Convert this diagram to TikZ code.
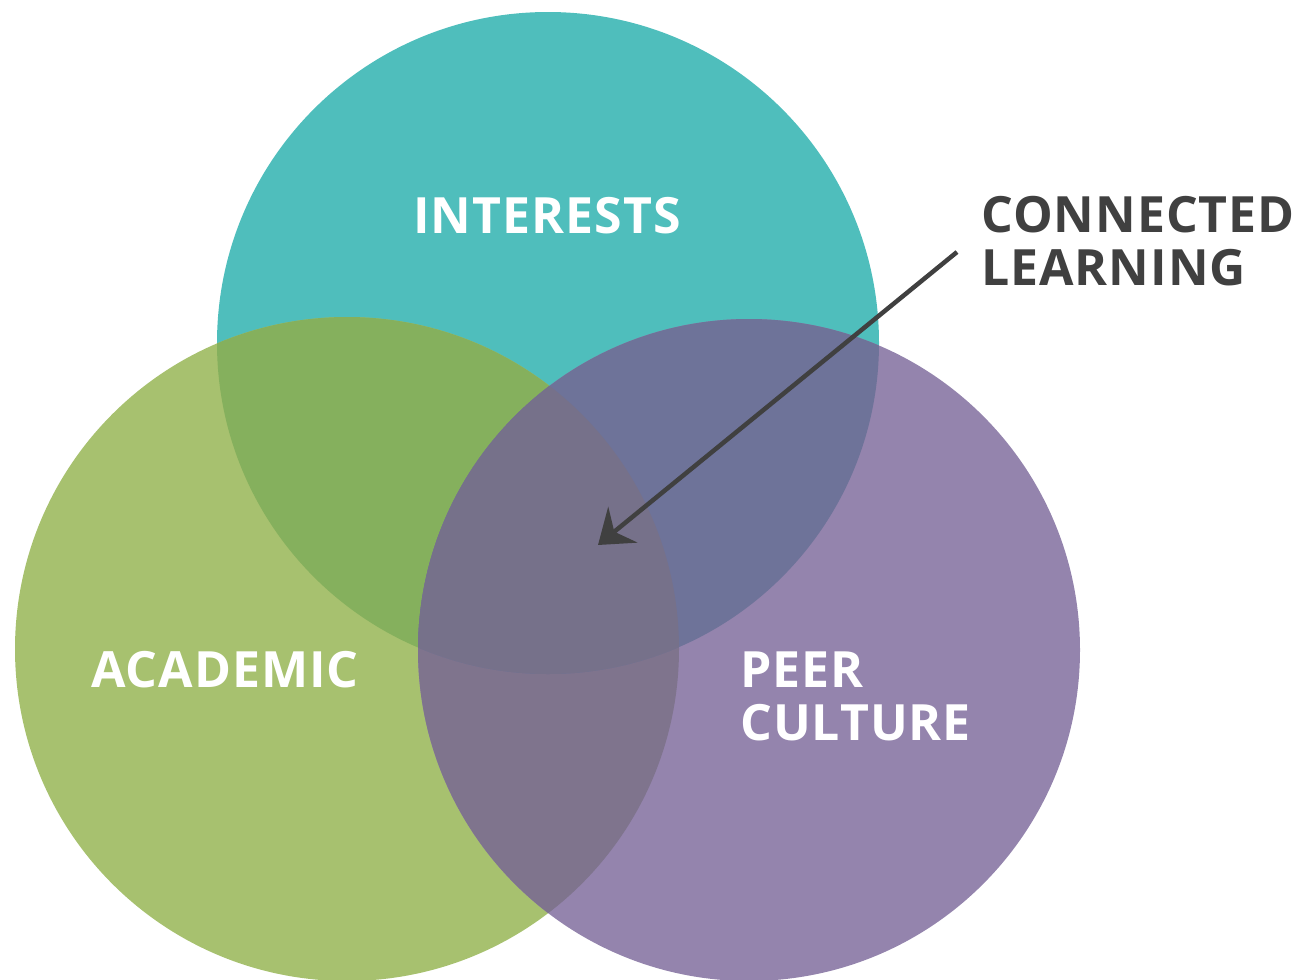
\documentclass[tikz,border=0pt]{standalone}
\usepackage{fontspec}
\setmainfont{Open Sans}
\usetikzlibrary{arrows.meta}
\definecolor{tealc}{HTML}{4FBEBC}
\definecolor{greenc}{HTML}{A7C16F}
\definecolor{purplec}{HTML}{9484AD}
\definecolor{gtc}{HTML}{85B05D}
\definecolor{tpc}{HTML}{6E7399}
\definecolor{gpc}{HTML}{7F748D}
\definecolor{allc}{HTML}{76718A}
\definecolor{darkc}{HTML}{404040}
\tikzset{
  lbl/.style={font=\fontsize{50}{55}\selectfont\bfseries\addfontfeature{LetterSpace=2.0}, inner sep=0pt, text=white},
  sidelbl/.style={lbl, text=darkc},
  pointer/.style={draw=darkc, line width=4.5pt, -{Stealth[length=32pt,width=46pt,inset=11pt]}}
}
\begin{document}
\begin{tikzpicture}[x=1pt,y=-1pt]
\useasboundingbox (0,0) rectangle (1304,980);
\clip (0,0) rectangle (1304,980);
\coordinate (ci) at (548,343);
\coordinate (ca) at (347,649);
\coordinate (cp) at (749,650);
\def\ri{331pt}\def\ra{332pt}\def\rp{331pt}
\fill[tealc] (ci) circle[radius=\ri];
\fill[greenc] (ca) circle[radius=\ra];
\fill[purplec] (cp) circle[radius=\rp];
\begin{scope}
  \clip (ca) circle[radius=\ra];
  \fill[gtc] (ci) circle[radius=\ri];
\end{scope}
\begin{scope}
  \clip (ca) circle[radius=\ra];
  \fill[gpc] (cp) circle[radius=\rp];
\end{scope}
\begin{scope}
  \clip (ci) circle[radius=\ri];
  \fill[tpc] (cp) circle[radius=\rp];
\end{scope}
\begin{scope}
  \clip (ci) circle[radius=\ri];
  \clip (ca) circle[radius=\ra];
  \fill[allc] (cp) circle[radius=\rp];
\end{scope}
\node[lbl, anchor=base] (interests) at (547,233) {INTERESTS};
\node[lbl, anchor=base] (academic) at (225,687) {ACADEMIC};
\node[lbl, anchor=base west] (peer) at (740,687) {PEER};
\node[lbl, anchor=base west] (culture) at (740,740) {CULTURE};
\node[sidelbl, anchor=base west] (connected) at (981,232) {CONNECTED};
\node[sidelbl, anchor=base west] (learning) at (981,285) {LEARNING};
\coordinate (arrstart) at (957,252);
\coordinate (arrtip) at (598,545);
\draw[pointer] (arrstart) -- (arrtip);
\end{tikzpicture}
\end{document}
